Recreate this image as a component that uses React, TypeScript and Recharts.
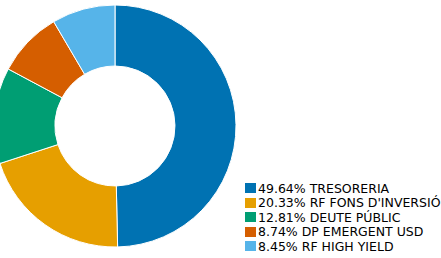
import { PieChart, Pie, Cell, Legend } from "recharts";

const labels = ["TRESORERIA", "RF FONS D'INVERSIÓ", "DEUTE PÚBLIC", "DP EMERGENT USD", "RF HIGH YIELD"];
const values = [49.64, 20.33, 12.81, 8.74, 8.45];
const colors = ["#0072B2", "#E69F00", "#009E73", "#D55E00", "#56B4E9"];

const data = labels.map((name, i) => ({ name, value: values[i] }));

function renderLegend() {
  return (
    <div style={{ fontFamily: "DejaVu Sans", fontSize: 12.5, color: "#000" }}>
      {data.map((d, i) => (
        <div
          key={d.name}
          style={{ display: "flex", alignItems: "center", height: 14.5, whiteSpace: "nowrap" }}
        >
          <span
            style={{ display: "inline-block", width: 11, height: 10, background: colors[i], marginRight: 2 }}
          />
          <span>
            {d.value.toFixed(2)}% {d.name}
          </span>
        </div>
      ))}
    </div>
  );
}

export default function App() {
  return (
    <div style={{ position: "absolute", left: 0, top: 0 }}>
      <PieChart width={441} height={258} margin={{ top: 0, right: 0, bottom: 0, left: 0 }}>
        <Pie
          data={data}
          dataKey="value"
          cx={115}
          cy={126}
          innerRadius={60}
          outerRadius={121}
          startAngle={90}
          endAngle={-270}
          stroke="#fff"
          strokeWidth={1}
          isAnimationActive={false}
        >
          {data.map((d, i) => (
            <Cell key={d.name} fill={colors[i]} />
          ))}
        </Pie>
        <Legend
          content={renderLegend}
          wrapperStyle={{ left: 245, top: 181, width: 200, bottom: "auto" }}
        />
      </PieChart>
    </div>
  );
}
